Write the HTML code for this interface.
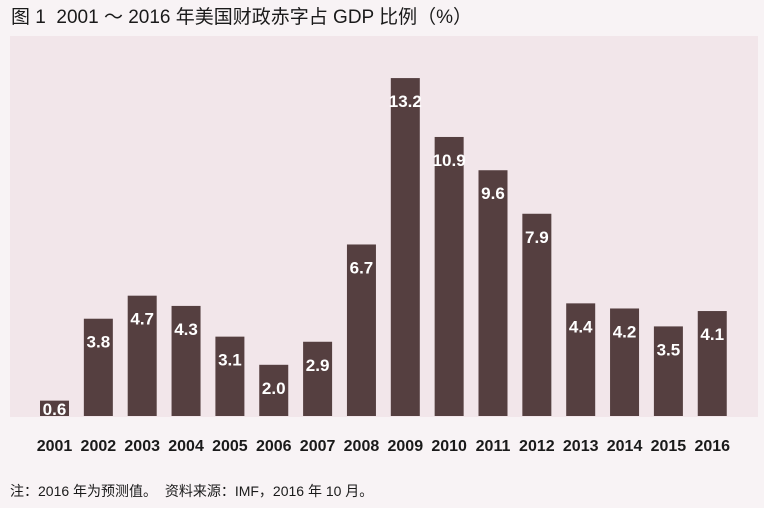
<!DOCTYPE html>
<html><head><meta charset="utf-8"><style>
body{margin:0;width:764px;height:503px;background:#f8f3f5;overflow:hidden;font-family:"Liberation Sans","Noto Sans CJK SC",sans-serif}
</style></head><body>
<svg width="764" height="503" xmlns="http://www.w3.org/2000/svg" font-family="Liberation Sans, Noto Sans CJK SC, sans-serif">
<text x="11" y="23" font-size="19" fill="#1a1a1a" xml:space="preserve">图 1  2001 ～ 2016 年美国财政赤字占 GDP 比例（%）</text>
<rect x="10" y="36" width="748" height="381" fill="#f2e6ea"/>
<g id="bars"></g>
<text x="10" y="496" font-size="14" fill="#1a1a1a" xml:space="preserve">注：2016 年为预测值。  资料来源：IMF，2016 年 10 月。</text>
</svg>
<script>
var v=[0.6,3.8,4.7,4.3,3.1,2.0,2.9,6.7,13.2,10.9,9.6,7.9,4.4,4.2,3.5,4.1];
var g=document.getElementById('bars'),s='';
for(var i=0;i<16;i++){var c=54.5+i*43.85,h=v[i]*25.6,t=416-h;
s+='<rect x="'+(c-14.5)+'" y="'+t+'" width="29" height="'+h+'" fill="#553f40"/>';
var ly=Math.min(t+23,409)+6;
s+='<text x="'+c+'" y="'+ly+'" font-size="17" font-weight="bold" fill="#fff" text-anchor="middle">'+v[i].toFixed(1)+'</text>';
s+='<text x="'+c+'" y="451" font-size="16" font-weight="bold" fill="#1a1a1a" text-anchor="middle">'+(2001+i)+'</text>';}
g.innerHTML=s;
</script>
</body></html>
